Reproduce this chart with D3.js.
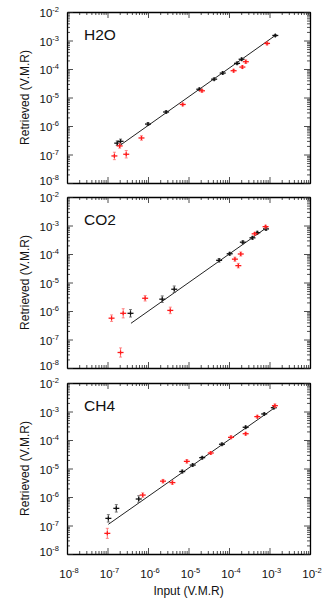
<!DOCTYPE html>
<html>
<head>
<meta charset="utf-8">
<script src="https://cdn.jsdelivr.net/npm/d3@7"></script>
<style>
  body { margin: 0; background: #fff; }
  svg text { font-family: "Liberation Sans", Arial, sans-serif; fill: #111; }
</style>
</head>
<body>
<svg id="chart" width="332" height="600"></svg>
<script>
// gas names, one panel each
const gases = ['H2O', 'CO2', 'CH4']

// black = one retrieval, red = the other (input, retrieved, error factor)
const h2oBlackX = [1.74e-7, 2.1e-7, 1.0e-6, 2.8e-6, 1.85e-5, 4.3e-5, 7.0e-5, 1.58e-4, 2.05e-4, 1.39e-3]
const h2oBlackY = [2.5e-7, 2.9e-7, 1.17e-6, 3.1e-6, 1.95e-5, 4.4e-5, 7.2e-5, 1.58e-4, 2.2e-4, 1.5e-3]
const h2oBlackErr = [1.2, 1.2, 1.12, 1.1, 1.1, 1.1, 1.1, 1.1, 1.1, 1.08]
const h2oRedX = [1.48e-7, 2.0e-7, 2.9e-7, 6.9e-7, 7.2e-6, 2.15e-5, 1.3e-4, 2.14e-4, 2.6e-4, 8.7e-4]
const h2oRedY = [8.9e-8, 2.0e-7, 1.02e-7, 3.8e-7, 5.7e-6, 1.72e-5, 8.7e-5, 1.17e-4, 1.8e-4, 7.9e-4]
const h2oRedErr = [1.35, 1.2, 1.35, 1.2, 1.12, 1.12, 1.12, 1.12, 1.15, 1.12]
const h2oLine = [[2.0e-7, 2.05e-7], [1.39e-3, 1.5e-3]]

const co2BlackX = [3.7e-7, 2.25e-6, 4.45e-6, 5.7e-5, 1.04e-4, 2.2e-4, 3.8e-4, 5.0e-4, 8.2e-4]
const co2BlackY = [8.3e-7, 2.6e-6, 5.8e-6, 6.0e-5, 1.02e-4, 2.6e-4, 3.7e-4, 5.6e-4, 7.6e-4]
const co2BlackErr = [1.35, 1.3, 1.3, 1.15, 1.12, 1.12, 1.12, 1.12, 1.12]
const co2RedX = [1.26e-7, 2.1e-7, 2.44e-7, 8.5e-7, 3.55e-6, 1.4e-4, 1.7e-4, 1.95e-4, 4.3e-4, 8.0e-4]
const co2RedY = [5.6e-7, 3.5e-8, 8.3e-7, 2.8e-6, 1.05e-6, 6.6e-5, 3.9e-5, 1.0e-4, 5.1e-4, 9.1e-4]
const co2RedErr = [1.3, 1.45, 1.45, 1.25, 1.3, 1.18, 1.2, 1.18, 1.12, 1.12]
const co2Line = [[3.8e-7, 3.7e-7], [8.2e-4, 8.1e-4]]

const ch4BlackX = [1.05e-7, 1.65e-7, 5.9e-7, 7.0e-6, 1.27e-5, 2.18e-5, 6.7e-5, 2.58e-4, 7.4e-4, 1.28e-3]
const ch4BlackY = [1.78e-7, 4.0e-7, 8.5e-7, 7.8e-6, 1.32e-5, 2.4e-5, 7.1e-5, 2.8e-4, 8.2e-4, 1.36e-3]
const ch4BlackErr = [1.35, 1.35, 1.3, 1.12, 1.1, 1.1, 1.1, 1.1, 1.08, 1.08]
const ch4RedX = [9.9e-8, 7.4e-7, 2.35e-6, 4.0e-6, 9.1e-6, 3.55e-5, 1.12e-4, 2.58e-4, 5.0e-4, 1.36e-3]
const ch4RedY = [5.3e-8, 1.17e-6, 3.6e-6, 3.2e-6, 1.78e-5, 3.5e-5, 1.24e-4, 1.66e-4, 6.6e-4, 1.6e-3]
const ch4RedErr = [1.5, 1.2, 1.15, 1.15, 1.15, 1.12, 1.12, 1.12, 1.12, 1.15]
const ch4Line = [[1.05e-7, 1.1e-7], [1.35e-3, 1.36e-3]]

// tick labels (exponents of ten)
const xExponents = [-8, -7, -6, -5, -4, -3, -2]
const yExponents = [-8, -7, -6, -5, -4, -3, -2]

const panelData = [
    { black: [h2oBlackX, h2oBlackY, h2oBlackErr], red: [h2oRedX, h2oRedY, h2oRedErr], line: h2oLine },
    { black: [co2BlackX, co2BlackY, co2BlackErr], red: [co2RedX, co2RedY, co2RedErr], line: co2Line },
    { black: [ch4BlackX, ch4BlackY, ch4BlackErr], red: [ch4RedX, ch4RedY, ch4RedErr], line: ch4Line }
]

const svg = d3.select('#chart')
const left = 67, right = 310
const panelTops = [12, 197, 383]
const panelHeight = 171

const x = d3.scaleLog().domain([1e-8, 1e-2]).range([left, right])

// minor ticks 2..9 for each decade
let minors = []
for (let e = -8; e < -2; e++) {
    for (let m = 2; m <= 9; m++) minors.push(m * Math.pow(10, e))
}
let majors = xExponents.map(e => Math.pow(10, e))

let drawAxes = function (g, y, top, bottom) {
    let parts = [
        [d3.axisBottom(x), bottom, 'x'],
        [d3.axisTop(x), top, 'x'],
        [d3.axisLeft(y), left, 'y'],
        [d3.axisRight(y), right, 'y']
    ]
    parts.forEach(([axisFn, pos, dir]) => {
        let tr = dir === 'x' ? `translate(0,${pos})` : `translate(${pos},0)`
        // minor
        g.append('g').attr('transform', tr)
            .call(axisFn.tickValues(minors).tickSize(-3).tickFormat('').tickSizeOuter(0))
        // major
        let ga = g.append('g').attr('transform', tr)
            .call(axisFn.tickValues(majors).tickSize(-6).tickFormat('').tickSizeOuter(0))
        ga.select('.domain').attr('stroke', '#000').attr('stroke-width', 1.3)
    })
    g.selectAll('.tick line').attr('stroke', '#222').attr('stroke-width', 0.8)
    g.selectAll('.domain').attr('stroke', '#000')
}

let addPowerLabel = function (sel, e) {
    sel.append('tspan').text('10')
    sel.append('tspan').attr('dy', -5).attr('font-size', 7.5).text(e)
}

panelData.forEach((pd, i) => {
    let top = panelTops[i], bottom = top + panelHeight
    let y = d3.scaleLog().domain([1e-8, 1e-2]).range([bottom, top])
    let g = svg.append('g')

    // fit line
    g.append('line')
        .attr('x1', x(pd.line[0][0])).attr('y1', y(pd.line[0][1]))
        .attr('x2', x(pd.line[1][0])).attr('y2', y(pd.line[1][1]))
        .attr('stroke', '#222').attr('stroke-width', 1)

    // points: cross with error bar
    let drawSeries = function (arr, color, errColor) {
        let pts = arr[0].map((v, k) => ({ x: v, y: arr[1][k], err: arr[2][k] }))
        let sg = g.append('g')
        let pg = sg.selectAll('g.pt').data(pts).enter().append('g').attr('class', 'pt')
        pg.append('line')
            .attr('x1', d => x(d.x)).attr('x2', d => x(d.x))
            .attr('y1', d => y(d.y * d.err)).attr('y2', d => y(d.y / d.err))
            .attr('stroke', errColor).attr('stroke-width', 1)
        pg.append('line')
            .attr('x1', d => x(d.x) - 1.5).attr('x2', d => x(d.x) + 1.5)
            .attr('y1', d => y(d.y * d.err)).attr('y2', d => y(d.y * d.err))
            .attr('stroke', errColor).attr('stroke-width', 0.8)
        pg.append('line')
            .attr('x1', d => x(d.x) - 1.5).attr('x2', d => x(d.x) + 1.5)
            .attr('y1', d => y(d.y / d.err)).attr('y2', d => y(d.y / d.err))
            .attr('stroke', errColor).attr('stroke-width', 0.8)
        pg.append('line')
            .attr('x1', d => x(d.x) - 3).attr('x2', d => x(d.x) + 3)
            .attr('y1', d => y(d.y)).attr('y2', d => y(d.y))
            .attr('stroke', color).attr('stroke-width', 1.3)
        pg.append('line')
            .attr('x1', d => x(d.x)).attr('x2', d => x(d.x))
            .attr('y1', d => y(d.y) - 2).attr('y2', d => y(d.y) + 2)
            .attr('stroke', color).attr('stroke-width', 1.3)
    }
    drawSeries(pd.black, '#111', '#555')
    drawSeries(pd.red, '#ff1a1a', '#ff7070')

    drawAxes(g, y, top, bottom)

    // y tick labels
    yExponents.forEach(e => {
        let yy = y(Math.pow(10, e))
        if (e === -8) yy -= 3
        let t = g.append('text')
            .attr('x', 59).attr('y', yy + 5)
            .attr('text-anchor', 'end')
            .attr('font-size', 11.5)
        addPowerLabel(t, e)
    })

    // panel title
    g.append('text')
        .attr('x', 84).attr('y', top + 28)
        .attr('font-size', 15.5)
        .text(gases[i])

    // y axis title
    g.append('text')
        .attr('transform', `translate(29,${(top + bottom) / 2}) rotate(-90)`)
        .attr('text-anchor', 'middle')
        .attr('font-size', 12)
        .text('Retrieved (V.M.R)')
})

// x tick labels on the bottom panel
let lastBottom = panelTops[2] + panelHeight
xExponents.forEach(e => {
    let t = svg.append('text')
        .attr('x', x(Math.pow(10, e)) + 2).attr('y', lastBottom + 24)
        .attr('text-anchor', 'middle')
        .attr('font-size', 11.5)
    addPowerLabel(t, e)
})

svg.append('text')
    .attr('x', (left + right) / 2).attr('y', lastBottom + 41)
    .attr('text-anchor', 'middle')
    .attr('font-size', 12)
    .text('Input (V.M.R)')
</script>
</body>
</html>
